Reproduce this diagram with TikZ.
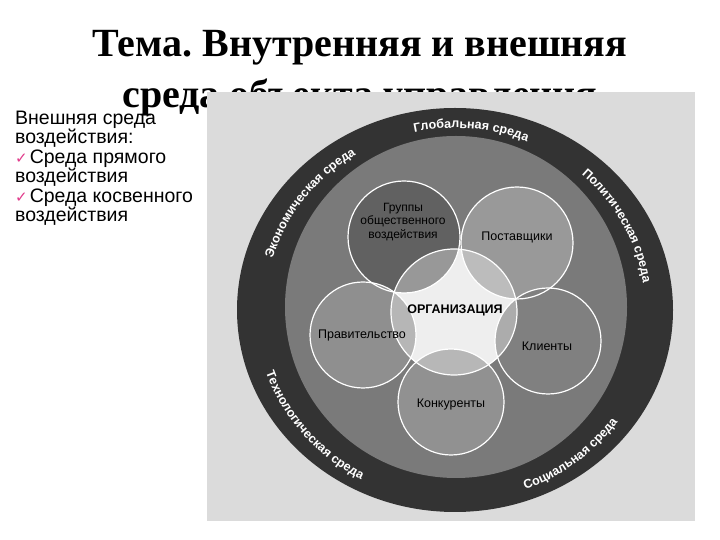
\documentclass[tikz,border=0pt]{standalone}
\usepackage{fontspec}
\setmainfont{Liberation Serif}
\setsansfont{Liberation Sans}
\newfontfamily\symfont{DejaVu Sans}
\usetikzlibrary{decorations.text}
\definecolor{photo}{gray}{0.86}
\definecolor{ringdark}{gray}{0.2}
\definecolor{ringmid}{gray}{0.48}
\definecolor{checkpink}{RGB}{225,60,140}
\newcommand\ringfont{\fontsize{12.5}{13}\selectfont\sffamily\bfseries}
\newcommand\tick{{\color{checkpink}\symfont\fontsize{15}{15}\selectfont ✓}\hspace{2pt}}
\frenchspacing

\begin{document}
\begin{tikzpicture}
[x=1pt, y=1pt,
 rim/.style={white, line width=1.2pt},
 lbl/.style={font=\sffamily\fontsize{12.5}{13.5}\selectfont, align=center, inner sep=0pt},
 ringtext/.style={decorate, decoration={text along path, text align=center, text color=white, text={|\ringfont|#1}}}]
    \useasboundingbox (0,0) rectangle (720,540);
    \fill[white] (0,0) rectangle (720,540);
    \node[anchor=base, font=\bfseries\fontsize{40}{44}\selectfont] (title1) at (360,483) {Тема. Внутренняя и внешняя};
    \node[anchor=base, font=\bfseries\fontsize{40}{44}\selectfont] (title2) at (360,432) {среда объекта управления};
    \fill[photo] (207,19) rectangle (695,448);
    \coordinate (C) at (455,230);
    \coordinate (org) at (454,228);
    \coordinate (grp) at (404,303);
    \coordinate (sup) at (517,297);
    \coordinate (gov) at (363,205);
    \coordinate (cli) at (548,199);
    \coordinate (com) at (451,138);
    \fill[ringdark] (C) ellipse [x radius=218, y radius=202];
    \fill[ringmid] (456,233) circle [radius=171];
    \fill[black!10] (org) circle [radius=63];
    \fill[black!62] (grp) circle [radius=56];
    \fill[black!40] (sup) circle [radius=56];
    \fill[black!44] (gov) circle [radius=53];
    \fill[black!50] (cli) circle [radius=53];
    \fill[black!43] (com) circle [radius=53];
    \fill[white, fill opacity=0.35] (org) circle [radius=63];
    \draw[rim] (grp) circle [radius=56];
    \draw[rim] (sup) circle [radius=56];
    \draw[rim] (gov) circle [radius=53];
    \draw[rim] (cli) circle [radius=53];
    \draw[rim] (com) circle [radius=53];
    \draw[rim] (org) circle [radius=63];
    \node[lbl, font=\sffamily\fontsize{12}{13.5}\selectfont] (grpL) at (403,318) {Группы\\общественного\\воздействия};
    \node[lbl] (supL) at (517,303) {Поставщики};
    \node[lbl, font=\sffamily\bfseries\fontsize{12.5}{13.5}\selectfont] (orgL) at (455,230) {ОРГАНИЗАЦИЯ};
    \node[lbl] (govL) at (362,204) {Правительство};
    \node[lbl] (cliL) at (547,194) {Клиенты};
    \node[lbl] (comL) at (451,135) {Конкуренты};
    \foreach \s/\e/\t in {125/45/Глобальная среда, 72/-16/Политическая среда, 192/94/Экономическая среда}
        \path[ringtext=\t] (C) ++(\s:190 and 182) arc[start angle=\s, end angle=\e, x radius=190, y radius=182];
    \foreach \s/\e/\t in {-97/-7/Социальная среда, 170/270/Технологическая среда}
        \path[ringtext=\t] (C) ++(\s:200 and 192) arc[start angle=\s, end angle=\e, x radius=200, y radius=192];
    \node[anchor=base west, align=left, inner sep=0pt, font=\sffamily\fontsize{19.5}{19.5}\selectfont] (ext) at (15,318)
        {Внешняя среда\\воздействия:\\\tick Среда прямого\\воздействия\\\tick Среда косвенного\\воздействия};
\end{tikzpicture}
\end{document}
